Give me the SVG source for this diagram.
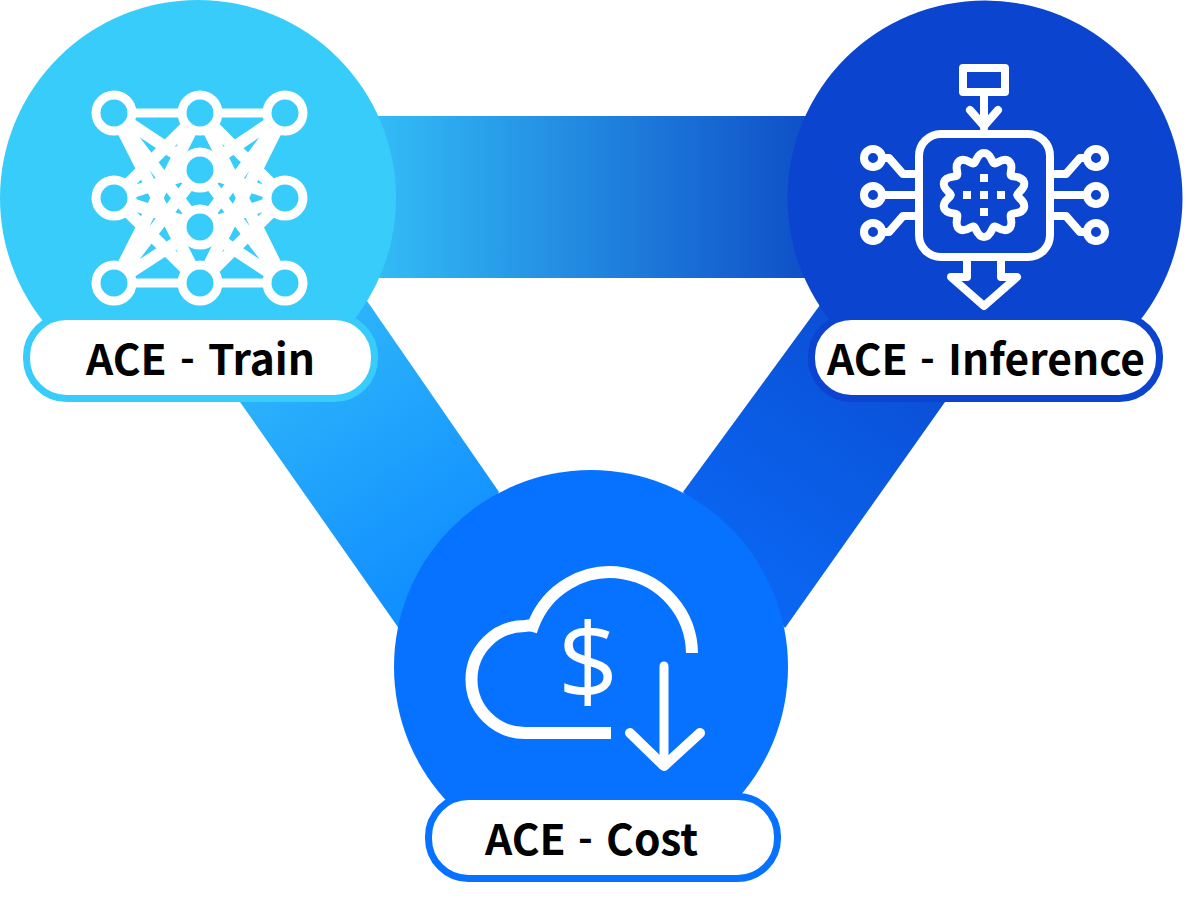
<svg xmlns="http://www.w3.org/2000/svg" width="1189" height="907" viewBox="0 0 1189 907">
<style>
.lbl{font-family:"Noto Sans CJK KR","Noto Sans",sans-serif;font-weight:700;font-size:42.500px;fill:#000}
.dash{font-size:40px}
.pill{fill:#fff;stroke-width:7}
.ic{fill:none;stroke:#fff;stroke-linecap:round;stroke-linejoin:round}
</style>
<defs>
<linearGradient id="gTop" gradientUnits="userSpaceOnUse" x1="377" y1="0" x2="806" y2="0"><stop offset="0" stop-color="#33BCF6"/><stop offset="1" stop-color="#0F50C8"/></linearGradient>
<linearGradient id="gLeft" gradientUnits="userSpaceOnUse" x1="300" y1="340" x2="450" y2="560"><stop offset="0" stop-color="#2DB4FA"/><stop offset="1" stop-color="#1290FF"/></linearGradient>
<linearGradient id="gRight" gradientUnits="userSpaceOnUse" x1="880" y1="350" x2="730" y2="560"><stop offset="0" stop-color="#0B50D6"/><stop offset="1" stop-color="#0A66F2"/></linearGradient>
<path id="tooth" d="M-10.2 -31.9C-8 -31.2 -7.500 -42 0 -42C7.500 -42 8 -31.2 10.200 -31.900"/>
</defs>
<g id="connectors">
<rect x="370" y="116" width="445" height="162" fill="url(#gTop)"/>
<polygon points="365,298 499,492 400,630 240,402" fill="url(#gLeft)"/>
<polygon points="820,305 945,402 785,628 683,492" fill="url(#gRight)"/>
</g>
<g id="train">
<circle cx="198" cy="198" r="198" fill="#38CCFA"/>
<g class="ic" stroke-width="12">
<path d="M114 113L200 113L285 113M114 283L200 283L285 283" stroke-width="9"/>
<path d="M114 113L200 170M114 113L200 227M114 113L200 283M114 198L200 113M114 198L200 170M114 198L200 227M114 198L200 283M114 283L200 113M114 283L200 170M114 283L200 227"/>
<path d="M285 113L200 170M285 113L200 227M285 113L200 283M285 198L200 113M285 198L200 170M285 198L200 227M285 198L200 283M285 283L200 113M285 283L200 170M285 283L200 227"/>
</g>
<g fill="#38CCFA" stroke="#fff" stroke-width="9">
<circle cx="114" cy="113" r="18"/><circle cx="200" cy="113" r="18"/><circle cx="285" cy="113" r="18"/>
<circle cx="114" cy="198" r="18"/><circle cx="285" cy="198" r="18"/>
<circle cx="200" cy="170" r="18"/><circle cx="200" cy="227" r="18"/>
<circle cx="114" cy="283" r="18"/><circle cx="200" cy="283" r="18"/><circle cx="285" cy="283" r="18"/>
</g>
<rect class="pill" x="26.500" y="316.500" width="348" height="82" rx="40" stroke="#38CCFA"/>
<text class="lbl" x="86" y="375">ACE</text><text class="lbl dash" x="180" y="372">-</text><text class="lbl" x="208" y="375">Train</text>
</g>
<g id="inference">
<circle cx="985" cy="198" r="197.500" fill="#0B44CE"/>
<g class="ic" stroke-width="8">
<rect x="963" y="68" width="42" height="24"/>
<path d="M984 96V128M970 110L984 126L998 110"/>
<rect x="919" y="134" width="131" height="123" rx="22"/>
<path d="M967 261V277H951L984 306L1017 277H1001V261"/>
<path d="M883 158H889L903 174H915M883 195H915M883 232H889L903 216H915"/>
<path d="M1086 158H1080L1066 174H1054M1086 195H1054M1086 232H1080L1066 216H1054"/>
<circle cx="873" cy="158" r="9"/><circle cx="873" cy="195" r="9"/><circle cx="873" cy="232" r="9"/>
<circle cx="1096" cy="158" r="9"/><circle cx="1096" cy="195" r="9"/><circle cx="1096" cy="232" r="9"/>
<g transform="translate(984 195)" stroke-width="8">
<use href="#tooth"/><use href="#tooth" transform="rotate(36)"/><use href="#tooth" transform="rotate(72)"/><use href="#tooth" transform="rotate(108)"/><use href="#tooth" transform="rotate(144)"/><use href="#tooth" transform="rotate(180)"/><use href="#tooth" transform="rotate(216)"/><use href="#tooth" transform="rotate(252)"/><use href="#tooth" transform="rotate(288)"/><use href="#tooth" transform="rotate(324)"/>
</g>
</g>
<g fill="#fff"><rect x="980" y="191" width="8" height="8"/><rect x="980" y="174" width="8" height="8"/><rect x="980" y="208" width="8" height="8"/><rect x="963" y="191" width="8" height="8"/><rect x="997" y="191" width="8" height="8"/></g>
<rect class="pill" x="811.500" y="316.500" width="348" height="82" rx="40" stroke="#0B44CE"/>
<text class="lbl" x="827" y="375">ACE</text><text class="lbl dash" x="920" y="372">-</text><text class="lbl" x="948" y="375">Inference</text>
</g>
<g id="cost">
<circle cx="591" cy="667" r="197" fill="#0672FF"/>
<g class="ic" stroke-width="12">
<path stroke-linecap="butt" stroke-linejoin="miter" d="M692 653A82 82 0 0 0 533 626Q529 625 525 626A53.500 53.500 0 0 0 525 733H611"/>
<path d="M664 666V765" stroke-width="9"/><path d="M630 733L664 766L700 733" stroke-width="10"/>
</g>
<text x="588" y="700" font-family="Open Sans,sans-serif" font-weight="500" font-size="106" text-anchor="middle" fill="#fff">$</text>
<rect class="pill" x="428.500" y="796.500" width="349" height="82" rx="40" stroke="#0672FF"/>
<text class="lbl" x="485" y="855">ACE</text><text class="lbl dash" x="578" y="852">-</text><text class="lbl" x="606" y="855">Cost</text>
</g>
</svg>
